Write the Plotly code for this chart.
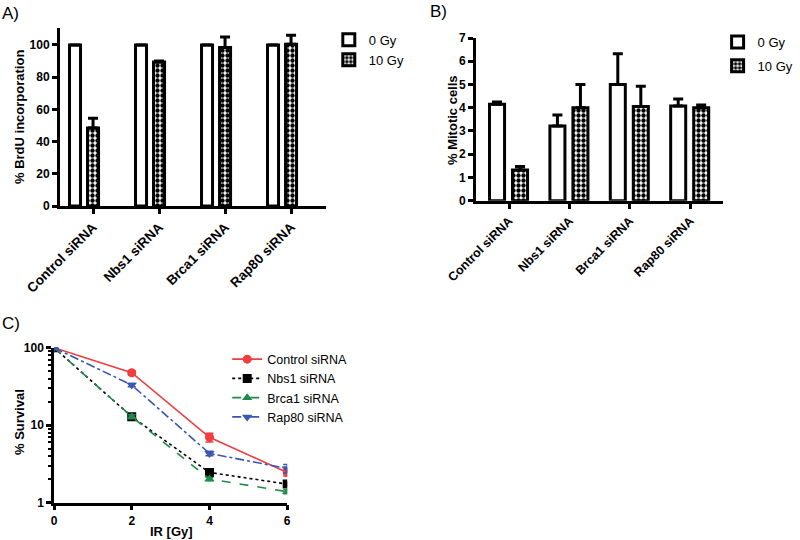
import plotly.graph_objects as go

# ---------------- data ----------------
categories = ["Control siRNA", "Nbs1 siRNA", "Brca1 siRNA", "Rap80 siRNA"]

brdu_0gy = [100, 100, 100, 100]
brdu_0gy_err = [0, 0, 0, 0]
brdu_10gy = [48.5, 89.5, 98.5, 100.5]
brdu_10gy_err = [6, 0.5, 6.5, 5.5]

mit_0gy = [4.15, 3.22, 5.0, 4.08]
mit_0gy_err = [0.1, 0.47, 1.32, 0.3]
mit_10gy = [1.32, 4.0, 4.05, 4.0]
mit_10gy_err = [0.15, 1.0, 0.88, 0.12]

dose = [0, 2, 4, 6]
surv_control = [100, 47.6, 7.0, 2.46]
surv_control_err = [0, 3, 0.9, 0.25]
surv_nbs1 = [100, 12.9, 2.46, 1.74]
surv_nbs1_err = [0, 0.8, 0.1, 0.1]
surv_brca1 = [100, 12.9, 2.02, 1.39]
surv_brca1_err = [0, 0.8, 0.1, 0.08]
surv_rap80 = [100, 33.0, 4.33, 2.77]
surv_rap80_err = [0, 1.5, 0.3, 0.35]

FONT = "Liberation Sans, Arial, sans-serif"
RED = "#EE3E3E"
GREEN = "#21894A"
BLUE = "#3A55B2"

fig = go.Figure()

checker = dict(shape=".", size=5, solidity=0.6, fgcolor="black", bgcolor="white", fillmode="replace")

def bar(x, y, err, name, xa, ya, legend, group, offset, width, pattern):
    marker = dict(color="white", line=dict(color="black", width=3))
    if pattern:
        marker["pattern"] = checker
    return go.Bar(
        x=x, y=y, name=name, xaxis=xa, yaxis=ya, legend=legend, legendgroup=group,
        offset=offset, width=width, marker=marker,
        error_y=dict(type="data", array=err, arrayminus=[0] * len(err),
                     symmetric=False, color="black", thickness=3, width=5),
    )

# Panel A
fig.add_trace(bar(categories, brdu_0gy, brdu_0gy_err, "0 Gy", "x", "y", "legend", "a0", -0.356, 0.167, False))
fig.add_trace(bar(categories, brdu_10gy, brdu_10gy_err, "10 Gy", "x", "y", "legend", "a10", -0.083, 0.167, True))
# Panel B
fig.add_trace(bar(categories, mit_0gy, mit_0gy_err, "0 Gy", "x2", "y2", "legend2", "b0", -0.323, 0.249, False))
fig.add_trace(bar(categories, mit_10gy, mit_10gy_err, "10 Gy", "x2", "y2", "legend2", "b10", 0.058, 0.249, True))

# Panel C
def line(y, err, name, color, dash, symbol):
    return go.Scatter(
        x=dose, y=y, name=name, xaxis="x3", yaxis="y3", legend="legend3",
        mode="lines+markers",
        line=dict(color=color, width=1.6, dash=dash),
        marker=dict(color=color, size=9, symbol=symbol),
        error_y=dict(type="data", array=err, color=color, thickness=1.5, width=4),
    )

fig.add_trace(line(surv_control, surv_control_err, "Control siRNA", RED, "solid", "circle"))
fig.add_trace(line(surv_nbs1, surv_nbs1_err, "Nbs1 siRNA", "black", "dot", "square"))
fig.add_trace(line(surv_brca1, surv_brca1_err, "Brca1 siRNA", GREEN, "dash", "triangle-up"))
fig.add_trace(line(surv_rap80, surv_rap80_err, "Rap80 siRNA", BLUE, "dashdot", "triangle-down"))

def bold(size):
    return dict(family=FONT, size=size, color="black", weight="bold")

axis_common = dict(showline=True, linecolor="black", linewidth=3, ticks="outside",
                   ticklen=5, tickwidth=2.5, tickcolor="black", showgrid=False,
                   zeroline=False, tickfont=bold(12), mirror=False, automargin=False)

legfont = dict(family=FONT, size=13, color="black")
legfont3 = dict(family=FONT, size=12.5, color="black")

def ann(text, px, py, size=13, is_bold=True, angle=0, xanchor="center", yanchor="middle"):
    f = bold(size) if is_bold else dict(family=FONT, size=size, color="black")
    return dict(text=text, x=px / 800, y=1 - py / 540, xref="paper", yref="paper",
                xanchor=xanchor, yanchor=yanchor, showarrow=False, textangle=angle, font=f)

fig.update_layout(
    width=800, height=540,
    margin=dict(l=0, r=0, t=0, b=0, autoexpand=False),
    paper_bgcolor="white", plot_bgcolor="white",
    barmode="overlay",
    font=dict(family=FONT, color="black"),
    xaxis=dict(domain=[0.075, 0.4075], range=[-0.5, 3.53], anchor="y",
               tickangle=-45, **{**axis_common, "tickfont": bold(13.5)}),
    yaxis=dict(domain=[0.6185, 0.948], range=[0, 110.5], anchor="x",
               tickvals=[0, 20, 40, 60, 80, 100], **axis_common),
    xaxis2=dict(domain=[0.595, 0.904], range=[-0.547, 3.547], anchor="y2",
                tickangle=-45, **{**axis_common, "tickfont": bold(12.5)}),
    yaxis2=dict(domain=[0.6283, 0.9296], range=[0, 7], anchor="x2", dtick=1,
                **axis_common),
    xaxis3=dict(domain=[0.0675, 0.359], range=[0, 6], anchor="y3",
                tickvals=[0, 2, 4, 6],
                **{**axis_common, "linewidth": 2.5}),
    yaxis3=dict(domain=[0.069, 0.356], range=[0, 2], type="log", anchor="x3",
                tickvals=[1, 10, 100], ticktext=["1", "10", "100"],
                minor=dict(ticks="outside", ticklen=3, tickwidth=1.5, tickcolor="black",
                           tickvals=[2, 3, 4, 5, 6, 7, 8, 9, 20, 30, 40, 50, 60, 70, 80, 90]),
                **{**axis_common, "linewidth": 2.5}),
    legend=dict(x=0.411, y=0.954, xref="container", yref="container",
                xanchor="left", yanchor="top", font=legfont,
                bgcolor="rgba(0,0,0,0)", tracegroupgap=0, itemwidth=30),
    legend2=dict(x=0.897, y=0.95, xref="container", yref="container",
                 xanchor="left", yanchor="top", font=legfont,
                 bgcolor="rgba(0,0,0,0)", tracegroupgap=4, itemwidth=30),
    legend3=dict(x=0.284, y=0.362, xref="container", yref="container",
                 xanchor="left", yanchor="top", font=legfont3,
                 bgcolor="rgba(0,0,0,0)", itemwidth=30),
    annotations=[
        ann("A)", 0, 2, size=17, is_bold=False, xanchor="left", yanchor="top"),
        ann("B)", 428, 0, size=17, is_bold=False, xanchor="left", yanchor="top"),
        ann("C)", 0, 312, size=17, is_bold=False, xanchor="left", yanchor="top"),
        ann("% BrdU incorporation", 19, 117, angle=-90),
        ann("% Mitotic cells", 452, 120, angle=-90),
        ann("% Survival", 19, 422, angle=-90),
        ann("IR [Gy]", 171, 531),
    ],
)

fig.write_html("out.html", post_script="document.body.style.margin='0';",
               config={"displayModeBar": False})
